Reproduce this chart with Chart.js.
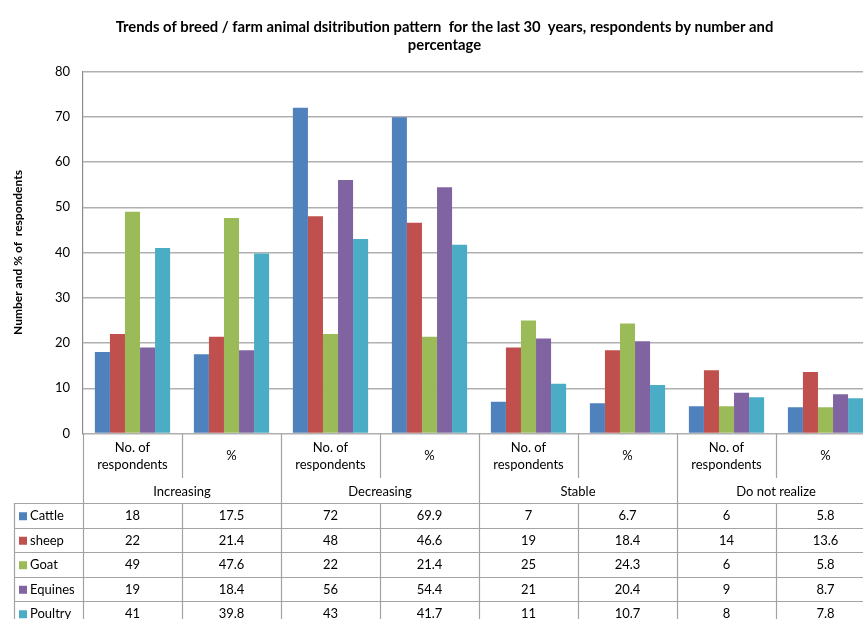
<!DOCTYPE html>
<html>
<head>
<meta charset="utf-8">
<script src="https://cdn.jsdelivr.net/npm/chart.js@4.4.1/dist/chart.umd.min.js"></script>
<style>
  html, body { margin: 0; padding: 0; overflow: hidden; background: #fff; width: 863px; height: 619px; }
  #wrap { width: 886px; height: 619px; }
  canvas { display: block; }
</style>
</head>
<body>
<div id="wrap"><canvas id="chart" width="886" height="619"></canvas></div>
<script>
// Trend groups, each split into a count and a percentage column
const trendGroups = ['Increasing', 'Decreasing', 'Stable', 'Do not realize'];
const columnLabels = ['No. of respondents', '%', 'No. of respondents', '%',
                      'No. of respondents', '%', 'No. of respondents', '%'];

// Respondents by animal type: [count, %] per trend group
const cattle  = [18, 17.5, 72, 69.9, 7, 6.7, 6, 5.8];
const sheep   = [22, 21.4, 48, 46.6, 19, 18.4, 14, 13.6];
const goat    = [49, 47.6, 22, 21.4, 25, 24.3, 6, 5.8];
const equines = [19, 18.4, 56, 54.4, 21, 20.4, 9, 8.7];
const poultry = [41, 39.8, 43, 41.7, 11, 10.7, 8, 7.8];

const seriesNames = ['Cattle', 'sheep', 'Goat', 'Equines', 'Poultry'];
const seriesValues = [cattle, sheep, goat, equines, poultry];
const seriesColors = ['#4F81BD', '#C0504D', '#9BBB59', '#8064A2', '#4BACC6'];

const yTicks = [0, 10, 20, 30, 40, 50, 60, 70, 80];

const FONT = 'Lato, "Open Sans", sans-serif';
const LINE = '#A3A3A3';

// Draws the grouped category header and the data table under the plot
const dataTablePlugin = {
  id: 'dataTable',
  afterDraw(chart) {
    const ctx = chart.ctx;
    const xs = chart.scales.x;
    const area = chart.chartArea;
    const n = chart.data.labels.length;
    const step = xs.getPixelForValue(1) - xs.getPixelForValue(0);
    const edge = i => xs.getPixelForValue(0) - step / 2 + i * step;

    const labelBottom = area.bottom + 44.5;
    const headerBottom = area.bottom + 69.5;
    const rowH = 24.5;
    const legendLeft = 14;
    const bottom = chart.height;

    ctx.save();
    ctx.strokeStyle = LINE;
    ctx.lineWidth = 1.2;
    ctx.beginPath();
    for (let i = 0; i <= n; i++) {
      const x = Math.round(edge(i)) + 0.5;
      if (i % 2 === 0) {
        ctx.moveTo(x, area.bottom); ctx.lineTo(x, bottom);
      } else {
        ctx.moveTo(x, area.bottom); ctx.lineTo(x, labelBottom);
        ctx.moveTo(x, headerBottom); ctx.lineTo(x, bottom);
      }
    }
    ctx.moveTo(legendLeft + 0.5, headerBottom); ctx.lineTo(legendLeft + 0.5, bottom);
    for (let r = 0; r <= seriesNames.length; r++) {
      const y = Math.round(headerBottom + r * rowH) + 0.5;
      ctx.moveTo(legendLeft, y); ctx.lineTo(edge(n), y);
    }
    ctx.stroke();

    ctx.fillStyle = '#000';
    ctx.font = '13px ' + FONT;
    ctx.textAlign = 'center';
    ctx.textBaseline = 'middle';
    trendGroups.forEach((g, k) => {
      ctx.fillText(g, (edge(2 * k) + edge(2 * k + 2)) / 2, area.bottom + 58.5);
    });

    seriesNames.forEach((name, r) => {
      const cy = headerBottom + r * rowH + rowH / 2 + 1;
      ctx.fillStyle = seriesColors[r];
      ctx.fillRect(legendLeft + 5, cy - 4, 8, 8);
      ctx.fillStyle = '#000';
      ctx.textAlign = 'left';
      ctx.fillText(name, legendLeft + 16, cy);
      ctx.textAlign = 'center';
      seriesValues[r].forEach((v, i) => {
        ctx.fillText(String(v), xs.getPixelForValue(i), cy);
      });
    });
    ctx.restore();
  }
};

new Chart(document.getElementById('chart'), {
  type: 'bar',
  data: {
    labels: columnLabels,
    datasets: seriesNames.map((name, i) => ({
      label: name,
      data: seriesValues[i],
      backgroundColor: seriesColors[i],
      borderWidth: 0,
      categoryPercentage: 0.76,
      barPercentage: 1.0
    }))
  },
  options: {
    responsive: false,
    animation: false,
    devicePixelRatio: 1,
    layout: { padding: { left: 14, right: 11, top: 0, bottom: 0 } },
    plugins: {
      legend: { display: false },
      tooltip: { enabled: false },
      title: {
        display: true,
        text: ['Trends of breed / farm animal dsitribution pattern  for the last 30  years, respondents by number and',
               'percentage'],
        color: '#000',
        font: { family: FONT, size: 14.8, weight: 'bold', lineHeight: '18px' },
        padding: { top: 18.5, bottom: 17 }
      }
    },
    scales: {
      x: {
        grid: { display: false },
        border: { display: false },
        ticks: {
          color: '#000',
          font: { family: FONT, size: 13, lineHeight: 1.3 },
          maxRotation: 0,
          autoSkip: false,
          crossAlign: 'center',
          padding: 6,
          callback: function (value) {
            const label = this.getLabelForValue(value);
            return label === 'No. of respondents' ? ['No. of', 'respondents'] : label;
          }
        },
        afterFit: s => { s.height = 185.5; }
      },
      y: {
        min: 0,
        max: 80,
        afterBuildTicks: s => { s.ticks = yTicks.map(v => ({ value: v })); },
        grid: { color: '#B0B0B0', lineWidth: 1.5, drawTicks: false },
        border: { display: true, color: '#8C8C8C', width: 1.2 },
        ticks: {
          color: '#000',
          font: { family: FONT, size: 13 },
          padding: 13
        },
        title: {
          display: true,
          text: 'Number and % of  respondents',
          color: '#000',
          font: { family: FONT, size: 12, weight: 'bold' },
          padding: { top: -3, bottom: 0 }
        },
        afterFit: s => { s.width = 69; }
      }
    }
  },
  plugins: [dataTablePlugin]
});
</script>
</body>
</html>
